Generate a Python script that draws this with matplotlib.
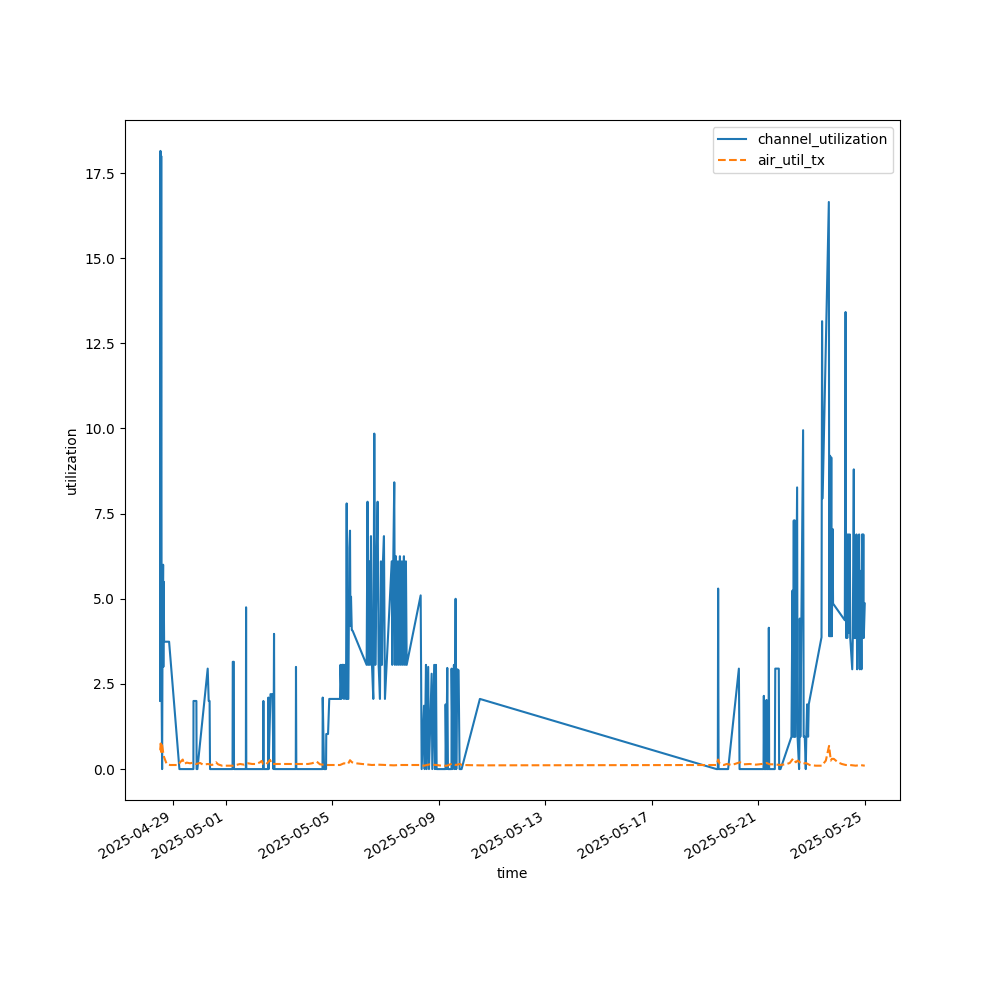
import numpy as np
import pandas as pd
import matplotlib
matplotlib.use("Agg")
import matplotlib.pyplot as plt


########################################
#   Data (hours since 2025-04-28 00:00)
########################################

start = pd.Timestamp("2025-04-28 00:00")

chan_hours = [
    12.7, 12.9, 13.2, 13.6, 14.0, 14.4, 14.8, 15.3, 15.5, 15.8, 16.2, 20.7, 30.0,
    42.6, 42.7, 45.3, 45.5, 46.2, 55.5, 56.4, 57.2, 57.6,
    77.9, 78.1, 79.1, 79.2, 89.9, 90.1, 90.3,
    105.5, 105.7, 105.9, 110.0, 110.2, 110.4, 112.1, 113.9, 114.8, 115.3, 115.7,
    134.9, 135.1, 135.4,
    159.0, 159.2, 160.4, 162.2, 162.4, 164.0, 165.1, 174.8, 175.2, 176.1, 176.6,
    177.9, 178.4, 179.3, 180.2, 180.8, 181.4, 182.3, 183.2, 183.8, 184.2, 184.7,
    185.4, 186.2, 198.8, 199.6, 200.3, 201.2, 201.8, 202.7, 203.6, 204.8, 205.7,
    206.6, 207.8, 208.7, 209.6, 210.8, 211.7, 212.6, 213.5, 214.4, 215.3,
    221.4, 221.9, 222.8, 223.7, 224.3, 225.2, 226.1, 227.0, 227.9, 228.8, 229.7,
    230.6, 231.5, 232.4, 233.3, 234.2, 234.9, 247.5, 248.4,
    250.5, 251.1, 252.3, 252.9, 254.3, 255.0, 257.4, 258.0, 259.7, 260.4, 261.3,
    261.9, 269.9, 270.0, 270.6, 271.5, 272.1, 275.3, 275.4, 276.3, 277.5, 278.1,
    279.0, 279.6, 280.5, 281.7, 282.6, 284.4, 300.9,
    514.3, 515.4, 515.7, 516.1, 524.7, 534.4, 535.0,
    556.6, 556.9, 557.2, 559.1, 559.3, 559.6, 561.2, 561.4, 561.7,
    566.8, 567.2, 570.4, 570.7, 571.9, 581.8,
    582.7, 583.2, 583.9, 584.4, 584.8, 585.3, 586.9, 587.3, 588.7, 589.1, 589.3,
    589.8, 592.3, 592.8, 593.8, 594.7, 595.2, 595.9, 596.8, 597.4,
    608.9, 609.4, 609.9, 615.5, 615.9, 616.6, 617.1, 617.7, 618.2, 618.9, 619.3,
    629.9, 630.6, 631.1, 631.7, 632.1, 633.0, 633.5, 634.4, 634.8, 636.6, 637.1,
    638.0, 638.4, 639.8, 640.4, 641.0, 641.6, 642.8, 643.4, 643.8, 644.3, 644.9,
    645.5, 646.1, 646.6, 647.0, 647.9,
]
channel_utilization = [
    2.0, 18.15, 2.0, 18.0, 2.0, 0.0, 4.0, 6.0, 3.0, 5.5, 3.74, 3.74, 0.0,
    0.0, 2.0, 2.0, 0.0, 0.0, 2.95, 2.0, 2.0, 0.0,
    0.0, 3.15, 3.15, 0.0, 0.0, 4.75, 0.0,
    0.0, 2.0, 0.0, 0.0, 2.1, 0.0, 2.2, 2.2, 0.0, 3.97, 0.0,
    0.0, 3.0, 0.0,
    0.0, 2.1, 0.0, 0.0, 1.03, 1.03, 2.06, 2.06, 3.06, 2.06, 3.06,
    3.06, 2.06, 3.06, 2.06, 7.8, 2.06, 2.06, 6.5, 7.0, 4.2, 5.06,
    4.08, 4.06, 3.06, 7.85, 3.06, 6.1, 3.06, 6.84, 3.06, 2.06, 9.85,
    3.06, 6.1, 7.85, 3.06, 2.06, 6.1, 3.06, 6.1, 6.84, 2.06,
    6.1, 3.06, 6.1, 8.42, 3.06, 6.25, 3.06, 6.1, 3.06, 6.25, 3.06,
    6.1, 3.06, 6.25, 3.06, 6.1, 3.06, 5.1, 0.0,
    1.86, 0.0, 3.06, 0.0, 3.0, 0.0, 2.8, 0.0, 3.06, 0.0, 3.06,
    0.0, 0.0, 1.9, 0.0, 2.97, 0.0, 0.0, 2.95, 0.0, 3.06, 0.0,
    5.0, 0.0, 2.93, 2.9, 0.0, 0.0, 2.06,
    0.0, 0.0, 5.3, 0.0, 0.0, 2.95, 0.0,
    0.0, 2.15, 0.0, 0.0, 2.03, 0.0, 0.0, 4.15, 0.0,
    0.0, 2.95, 2.95, 0.0, 0.0, 0.95,
    5.24, 0.95, 7.3, 0.95, 7.3, 0.95, 8.27, 0.95, 0.0, 0.95, 4.42,
    0.95, 9.95, 0.95, 0.95, 0.0, 0.95, 1.9, 0.95, 1.9,
    3.87, 13.15, 7.95, 16.65, 3.9, 9.2, 3.9, 9.15, 3.9, 7.05, 4.86,
    4.37, 13.42, 3.85, 6.89, 3.85, 6.89, 4.0, 6.89, 3.85, 2.93, 3.85,
    8.8, 3.85, 3.85, 6.89, 2.93, 3.85, 6.89, 2.93, 3.85, 5.82, 2.93,
    6.89, 3.85, 6.89, 3.85, 4.86,
]

air_hours = [
    12.7, 13.1, 13.6, 14.4, 15.3, 16.2, 18.6, 21.6, 26.1, 29.0, 30.6, 33.0, 34.2,
    36.6, 39.6, 42.3, 45.0, 48.6, 51.3, 55.8, 59.4, 63.0, 64.8, 68.4, 73.8, 78.3,
    81.0, 84.7, 88.3, 91.9, 95.5, 99.1, 102.7, 104.2, 105.4, 108.1, 109.9, 111.7,
    113.5, 117.1, 122.5, 129.7, 135.1, 140.5, 145.9, 149.5, 153.8, 156.7, 162.2,
    168.5, 174.8, 178.4, 182.0, 183.8, 185.6, 189.2, 194.6, 198.2, 203.6, 209.0,
    216.2, 223.4, 228.8, 237.9, 246.9, 250.5, 255.9, 261.3, 266.7, 271.2, 275.7,
    279.3, 282.9, 284.7, 300.9,
    514.3, 515.7, 517.2, 520.8, 523.5, 528.0, 535.3, 538.9, 544.3, 549.7, 555.1,
    559.3, 562.3, 566.8, 571.3, 576.7, 580.3, 583.3, 585.7, 587.5, 589.3, 592.0,
    594.7, 598.3, 603.7, 609.2, 612.8, 615.7, 617.3, 618.2, 620.0, 623.6, 627.2,
    630.8, 634.4, 639.8, 643.4, 647.9,
]
air_util_tx = [
    0.55, 0.75, 0.5, 0.7, 0.5, 0.35, 0.14, 0.12, 0.12, 0.12, 0.2, 0.28, 0.15,
    0.19, 0.17, 0.19, 0.15, 0.18, 0.13, 0.15, 0.12, 0.2, 0.14, 0.1, 0.1, 0.1,
    0.12, 0.15, 0.13, 0.17, 0.15, 0.15, 0.2, 0.24, 0.15, 0.14, 0.2, 0.27,
    0.15, 0.15, 0.15, 0.15, 0.15, 0.15, 0.15, 0.17, 0.22, 0.14, 0.12,
    0.12, 0.12, 0.17, 0.15, 0.26, 0.2, 0.17, 0.15, 0.14, 0.12, 0.13,
    0.12, 0.11, 0.12, 0.12, 0.12, 0.1, 0.14, 0.12, 0.1, 0.1, 0.16,
    0.12, 0.15, 0.12, 0.11,
    0.12, 0.28, 0.15, 0.12, 0.15, 0.12, 0.2, 0.14, 0.15, 0.13, 0.15,
    0.18, 0.14, 0.14, 0.12, 0.14, 0.18, 0.31, 0.2, 0.25, 0.2, 0.15,
    0.18, 0.12, 0.1, 0.1, 0.25, 0.68, 0.25, 0.3, 0.3, 0.2, 0.15,
    0.12, 0.12, 0.1, 0.12, 0.1,
]

chan_time = start + pd.to_timedelta(chan_hours, unit="h")
air_time = start + pd.to_timedelta(air_hours, unit="h")

########################################
#   Plot
########################################

fig, ax = plt.subplots(figsize=(10, 10), dpi=100)
ax.plot(chan_time, channel_utilization, linestyle="-", label="channel_utilization")
ax.plot(air_time, air_util_tx, linestyle="--", label="air_util_tx")
ax.set_xlabel("time")
ax.set_ylabel("utilization")
ax.legend(loc="upper right")
fig.autofmt_xdate()
fig.savefig("out.png")
